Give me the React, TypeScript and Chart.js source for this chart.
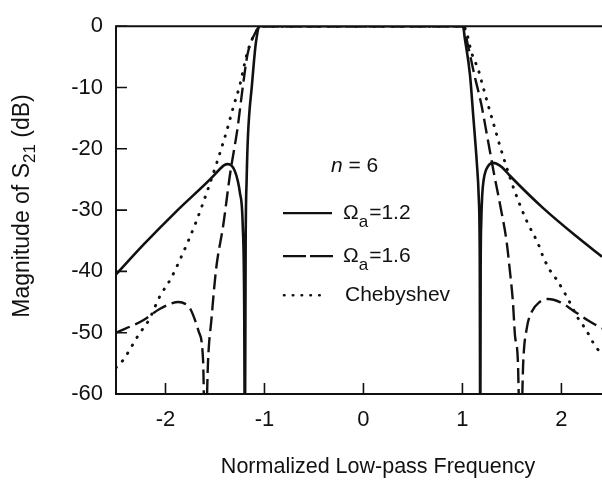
import React, { useEffect, useRef } from 'react';
import { Chart, registerables } from 'chart.js';

Chart.register(...registerables);

const FONT = '"Liberation Sans", Arial, Helvetica, sans-serif';
const INK = '#111111';

// Axis
const xMin = -2.5;
const xMax = 2.41;
const yMin = -60;
const yMax = 0;
const xTickValues = [-2, -1, 0, 1, 2];
const yStep = 10;

// Texts
const xTitle = 'Normalized Low-pass Frequency';
const yTitleMain = 'Magnitude of S';
const yTitleSub = '21';
const yTitleEnd = ' (dB)';
const annotationVar = 'n';
const annotationRest = ' = 6';
const legendSub = 'a';
const legendValues = ['=1.2', '=1.6'];
const legendCheby = 'Chebyshev';

// Ωa = 1.2 (solid)
const solidX = [-2.5, -2.22, -1.89, -1.55, -1.45, -1.41, -1.37, -1.33, -1.3, -1.27, -1.25, -1.22, -1.205, -1.198, -1.19, -1.18, -1.167, -1.126, -1.086, -1.045, -0.9, 0, 0.9, 1.005, 1.025, 1.076, 1.11, 1.145, 1.165, 1.175, 1.18, 1.184, 1.19, 1.2, 1.215, 1.235, 1.26, 1.29, 1.31, 1.34, 1.4, 1.48, 1.81, 2.16, 2.41];
const solidY = [-40.5, -35.6, -30.2, -25.0, -23.3, -22.7, -22.5, -22.8, -23.6, -25.2, -27, -32.3, -45, -70, -35, -25, -18, -9.5, -2.6, 0, 0, 0, 0, 0, -2.1, -7.9, -14.8, -22.2, -28, -38, -70, -40, -32, -27.5, -25, -23.6, -22.8, -22.35, -22.3, -22.4, -23.0, -24.4, -29.6, -34.4, -37.6];

// Ωa = 1.6 (dashed)
const dashX = [-2.5, -2.23, -2.055, -1.95, -1.87, -1.8, -1.75, -1.665, -1.62, -1.6, -1.57, -1.535, -1.49, -1.415, -1.35, -1.27, -1.22, -1.17, -1.09, -1.045, 0, 1.005, 1.055, 1.12, 1.19, 1.245, 1.28, 1.31, 1.38, 1.445, 1.48, 1.51, 1.53, 1.56, 1.585, 1.615, 1.65, 1.7, 1.78, 1.865, 1.985, 2.12, 2.27, 2.41];
const dashY = [-50, -48, -46.1, -45.3, -45, -45.3, -46.1, -49.8, -54.6, -70, -54.6, -47.7, -39.8, -32.3, -24.4, -16.4, -10, -4.5, -1, 0, 0, 0, -3.1, -7.9, -12.7, -17.5, -20.6, -23.3, -29.1, -35, -40, -45, -50.3, -54.6, -70, -54.6, -49.3, -46.6, -45, -44.5, -45, -46.4, -48, -49.3];

// Chebyshev (dotted)
const chebX = [-2.5, -2.42, -2.37, -2.27, -2.17, -2.055, -1.95, -1.84, -1.7, -1.58, -1.48, -1.38, -1.315, -1.247, -1.18, -1.13, -1.07, -1.04, 0, 1.01, 1.05, 1.09, 1.16, 1.21, 1.26, 1.33, 1.38, 1.43, 1.53, 1.65, 1.765, 1.815, 1.88, 1.95, 2.05, 2.17, 2.24, 2.355, 2.41];
const chebY = [-55.7, -54.3, -53, -50.3, -48, -44, -41.3, -37.6, -32.3, -27, -22.2, -17, -13.2, -9.5, -4.7, -2.3, -0.5, 0, 0, 0, -1.5, -4.2, -7.1, -10, -12.9, -16.8, -19.6, -22.2, -27, -31.8, -35.5, -37.6, -39.7, -41.3, -44, -47.7, -49.3, -52.5, -53.3];

const toPoints = (xs: number[], ys: number[]) => xs.map((x, i) => ({ x, y: ys[i] }));

const decorPlugin = {
  id: 'decor',
  afterDraw(chart: any) {
    const ctx: CanvasRenderingContext2D = chart.ctx;
    const { left, right, top, bottom } = chart.chartArea;
    const xs = chart.scales.x;
    const ys = chart.scales.y;
    ctx.save();
    ctx.strokeStyle = INK;
    ctx.fillStyle = INK;
    ctx.setLineDash([]);
    // frame
    ctx.lineWidth = 2;
    ctx.beginPath();
    ctx.moveTo(right, top);
    ctx.lineTo(left, top);
    ctx.lineTo(left, bottom);
    ctx.lineTo(right, bottom);
    ctx.stroke();
    // inward ticks
    ctx.lineWidth = 1.6;
    ctx.beginPath();
    for (let v = yMin; v <= yMax; v += yStep) {
      const py = ys.getPixelForValue(v);
      ctx.moveTo(left, py);
      ctx.lineTo(left + 11, py);
    }
    for (const v of xTickValues) {
      const px = xs.getPixelForValue(v);
      ctx.moveTo(px, bottom);
      ctx.lineTo(px, bottom - 11);
    }
    ctx.stroke();

    // annotation n = 6
    ctx.textBaseline = 'alphabetic';
    ctx.textAlign = 'left';
    ctx.font = `italic 21px ${FONT}`;
    const ax = left + 215;
    const ay = top + 146;
    ctx.fillText(annotationVar, ax, ay);
    const nw = ctx.measureText(annotationVar).width;
    ctx.font = `21px ${FONT}`;
    ctx.fillText(annotationRest, ax + nw, ay);

    // legend
    const lx0 = left + 167;
    const lx1 = left + 216;
    const tx = left + 227;
    const rows = [top + 187, top + 230, top + 269];
    ctx.lineWidth = 2.2;
    ctx.beginPath();
    ctx.moveTo(lx0, rows[0]);
    ctx.lineTo(lx1, rows[0]);
    ctx.stroke();
    ctx.setLineDash([23, 4]);
    ctx.beginPath();
    ctx.moveTo(lx0, rows[1]);
    ctx.lineTo(lx1 + 1, rows[1]);
    ctx.stroke();
    ctx.setLineDash([0.5, 8.3]);
    ctx.lineCap = 'round';
    ctx.lineWidth = 2.6;
    ctx.beginPath();
    ctx.moveTo(lx0 + 1, rows[2]);
    ctx.lineTo(lx1 - 4, rows[2]);
    ctx.stroke();
    ctx.setLineDash([]);
    ctx.lineCap = 'butt';

    for (let i = 0; i < 2; i++) {
      const base = rows[i] + 6;
      ctx.font = `21px ${FONT}`;
      ctx.fillText('Ω', tx, base);
      const w1 = ctx.measureText('Ω').width;
      ctx.font = `17px ${FONT}`;
      ctx.fillText(legendSub, tx + w1, base + 8);
      const w2 = ctx.measureText(legendSub).width;
      ctx.font = `21px ${FONT}`;
      ctx.fillText(legendValues[i], tx + w1 + w2 + 1, base);
    }
    ctx.font = `21px ${FONT}`;
    ctx.fillText(legendCheby, tx + 2, rows[2] + 6);

    // x title
    ctx.textAlign = 'center';
    ctx.font = `21.5px ${FONT}`;
    ctx.fillText(xTitle, 378, 473);

    // y title rotated
    ctx.translate(29, 206);
    ctx.rotate(-Math.PI / 2);
    ctx.textAlign = 'left';
    ctx.font = `23px ${FONT}`;
    const wMain = ctx.measureText(yTitleMain).width;
    const wEnd = ctx.measureText(yTitleEnd).width;
    ctx.font = `17px ${FONT}`;
    const wSub = ctx.measureText(yTitleSub).width;
    const total = wMain + wSub + wEnd;
    let cx = -total / 2;
    ctx.font = `23px ${FONT}`;
    ctx.fillText(yTitleMain, cx, 0);
    cx += wMain;
    ctx.font = `17px ${FONT}`;
    ctx.fillText(yTitleSub, cx, 6);
    cx += wSub;
    ctx.font = `23px ${FONT}`;
    ctx.fillText(yTitleEnd, cx, 0);
    ctx.restore();
  },
};

export default function App() {
  const ref = useRef<HTMLCanvasElement | null>(null);
  useEffect(() => {
    if (!ref.current) return;
    const common = {
      borderColor: INK,
      pointRadius: 0,
      fill: false,
      cubicInterpolationMode: 'monotone' as const,
    };
    const chart = new Chart(ref.current, {
      type: 'line',
      data: {
        datasets: [
          { ...common, label: 'Ωa=1.2', data: toPoints(solidX, solidY), borderWidth: 2.6 },
          { ...common, label: 'Ωa=1.6', data: toPoints(dashX, dashY), borderWidth: 2.4, borderDash: [15, 6] },
          { ...common, label: legendCheby, data: toPoints(chebX, chebY), borderWidth: 2.9, borderDash: [0.5, 8.7], borderCapStyle: 'round' },
        ],
      },
      options: {
        animation: false,
        responsive: false,
        layout: { padding: { top: 17, right: 0, bottom: 0, left: 0 } },
        plugins: { legend: { display: false }, tooltip: { enabled: false } },
        scales: {
          x: {
            type: 'linear',
            min: xMin,
            max: xMax,
            grid: { display: false, drawTicks: false },
            border: { display: false },
            afterBuildTicks: (s: any) => {
              s.ticks = xTickValues.map((v) => ({ value: v }));
            },
            afterFit: (s: any) => {
              s.height = 89;
            },
            ticks: {
              color: INK,
              padding: 13,
              maxRotation: 0,
              font: { family: FONT, size: 22 },
            },
          },
          y: {
            type: 'linear',
            min: yMin,
            max: yMax,
            grid: { display: false, drawTicks: false },
            border: { display: false },
            afterFit: (s: any) => {
              s.width = 116;
            },
            ticks: {
              color: INK,
              stepSize: yStep,
              padding: 13,
              font: { family: FONT, size: 22 },
            },
          },
        },
      },
      plugins: [decorPlugin],
    });
    return () => chart.destroy();
  }, []);
  return (
    <div style={{ position: 'absolute', left: 0, top: 0, width: 602, height: 483, background: '#fff' }}>
      <canvas ref={ref} width={602} height={483} style={{ display: 'block' }} />
    </div>
  );
}
